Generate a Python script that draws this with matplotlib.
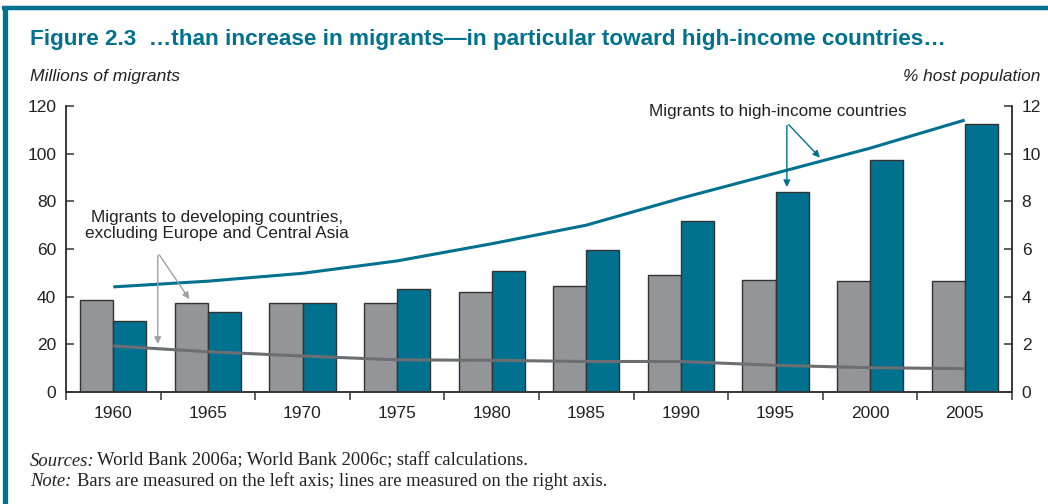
import matplotlib
matplotlib.use("Agg")
import matplotlib.pyplot as plt
import numpy as np
from matplotlib.lines import Line2D

years = ["1960", "1965", "1970", "1975", "1980", "1985", "1990", "1995", "2000", "2005"]
dev_bars = [38.4, 37.5, 37.5, 37.5, 41.9, 44.5, 49.0, 47.0, 46.7, 46.7]
high_bars = [30.0, 33.6, 37.5, 43.4, 50.7, 59.7, 71.6, 84.1, 97.4, 112.3]
high_pct = [4.41, 4.65, 4.98, 5.50, 6.22, 7.00, 8.13, 9.18, 10.23, 11.41]
dev_pct = [1.93, 1.69, 1.51, 1.35, 1.33, 1.28, 1.28, 1.12, 1.02, 0.98]
left_ticks = [0, 20, 40, 60, 80, 100, 120]
right_ticks = [0, 2, 4, 6, 8, 10, 12]

TEAL = "#00718f"
GRAY = "#939598"
LGRAY = "#6d6e71"
DARK = "#333333"
SANS = ["Liberation Sans", "DejaVu Sans"]
SERIF = ["Liberation Serif", "DejaVu Serif"]

plt.rcParams["font.family"] = SANS

fig = plt.figure(figsize=(10.48, 5.04), dpi=100)
ax = fig.add_axes([66/1048, 1-392/504, (1012-66)/1048, (392-106)/504])
ax2 = ax.twinx()

x = np.arange(len(years))
w = 0.35
ax.bar(x - w/2, dev_bars, width=w, color=GRAY, edgecolor=DARK, linewidth=1.0, zorder=2)
ax.bar(x + w/2, high_bars, width=w, color=TEAL, edgecolor=DARK, linewidth=1.0, zorder=2)

ax2.plot(x, high_pct, color=TEAL, lw=2.2, solid_capstyle="butt", zorder=3)
ax2.plot(x, dev_pct, color=LGRAY, lw=2.2, solid_capstyle="butt", zorder=3)

ax.set_xlim(-0.5, 9.5)
ax.set_ylim(0, 120)
ax2.set_ylim(0, 12)
ax.set_yticks(left_ticks)
ax2.set_yticks(right_ticks)
ax.set_xticks(x)
ax.set_xticklabels(years)
ax.set_xticks(np.arange(-0.5, 10, 1), minor=True)
ax.tick_params(axis="x", which="major", length=0, pad=10, labelsize=12.5, colors="#222222")
ax.tick_params(axis="x", which="minor", length=6, width=1.1, direction="out", color=DARK)
ax.tick_params(axis="y", direction="in", length=6, width=1.1, pad=7, labelsize=12.5,
               color=DARK, labelcolor="#222222")
ax2.tick_params(axis="y", direction="in", length=6, width=1.1, pad=7, labelsize=12.5,
                color=DARK, labelcolor="#222222")

for a in (ax, ax2):
    a.spines["top"].set_visible(False)
    for s in ("left", "right", "bottom"):
        a.spines[s].set_color(DARK)
        a.spines[s].set_linewidth(1.1)

# annotations
ax2.annotate("Migrants to high-income countries", xy=(7.02, 11.75), ha="center", va="center",
             fontsize=12.3, color="#222222")
ax2.annotate("", xy=(7.12, 8.48), xytext=(7.12, 11.3),
             arrowprops=dict(arrowstyle="-|>", color=TEAL, lw=1.0, mutation_scale=10))
ax2.annotate("", xy=(7.49, 9.75), xytext=(7.12, 11.3),
             arrowprops=dict(arrowstyle="-|>", color=TEAL, lw=1.0, mutation_scale=10))

ax2.annotate("Migrants to developing countries,\nexcluding Europe and Central Asia",
             xy=(1.10, 6.98), ha="center", va="center", fontsize=12.3, color="#222222",
             linespacing=1.1)
ax2.annotate("", xy=(0.47, 1.9), xytext=(0.47, 5.85),
             arrowprops=dict(arrowstyle="-|>", color="#a0a0a0", lw=1.0, mutation_scale=10))
ax2.annotate("", xy=(0.82, 3.8), xytext=(0.47, 5.85),
             arrowprops=dict(arrowstyle="-|>", color="#a0a0a0", lw=1.0, mutation_scale=10))

# frame
fig.add_artist(Line2D([2/1048, 1.0], [1-8/504, 1-8/504], color=TEAL, lw=3.2,
                      transform=fig.transFigure, solid_capstyle="butt"))
fig.add_artist(Line2D([4.5/1048, 4.5/1048], [0, 1-6/504], color=TEAL, lw=3.8,
                      transform=fig.transFigure, solid_capstyle="butt"))

# titles
fig.text(30/1048, 1-40/504, "Figure 2.3  \u2026than increase in migrants\u2014in particular toward high-income countries\u2026",
         color=TEAL, fontsize=16.2, fontweight="bold", va="center", ha="left")
fig.text(30/1048, 1-77/504, "Millions of migrants", fontsize=12.6, style="italic",
         va="center", ha="left", color="#222222")
fig.text(1040/1048, 1-77/504, "% host population", fontsize=12.4, style="italic",
         va="center", ha="right", color="#222222")

# notes
fig.text(30/1048, 1-461/504, "Sources:", fontsize=13.4, style="italic", family=SERIF,
         va="center", ha="left", color="#222222")
fig.text(97/1048, 1-461/504, "World Bank 2006a; World Bank 2006c; staff calculations.",
         fontsize=13.4, family=SERIF, va="center", ha="left", color="#222222")
fig.text(30/1048, 1-481/504, "Note:", fontsize=13.4, style="italic", family=SERIF,
         va="center", ha="left", color="#222222")
fig.text(77/1048, 1-481/504, "Bars are measured on the left axis; lines are measured on the right axis.",
         fontsize=13.4, family=SERIF, va="center", ha="left", color="#222222")

fig.savefig("out.png", dpi=100)
